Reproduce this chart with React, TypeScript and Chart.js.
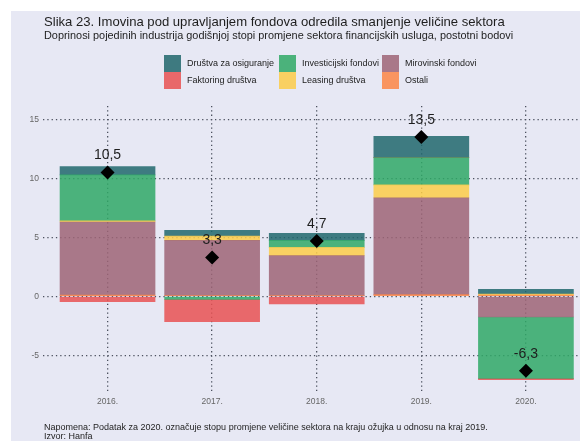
import React, { useEffect, useRef } from 'react';
import { Chart, registerables } from 'chart.js';

Chart.register(...registerables);

// ---- data ----
const categories = ['2016.', '2017.', '2018.', '2019.', '2020.'];
const drustvaZaOsiguranje = [0.7, 0.5, 0.6, 1.8, 0.4];
const investicijskiFondovi = [3.9, -0.25, 0.6, 2.3, -5.2];
const mirovinskiFondovi = [6.2, 4.7, 3.4, 8.2, -1.75];
const faktoringDrustva = [-0.45, -1.9, -0.65, 0, -0.1];
const leasingDrustva = [0.1, 0.35, 0.7, 1.1, 0.1];
const ostali = [0.1, 0.05, 0.05, 0.15, 0.1];
const ukupno = [10.5, 3.3, 4.7, 13.5, -6.3];
const yTickValues = [-5, 0, 5, 10, 15];

const titleText = 'Slika 23. Imovina pod upravljanjem fondova odredila smanjenje veličine sektora';
const subtitleText = 'Doprinosi pojedinih industrija godišnjoj stopi promjene sektora financijskih usluga, postotni bodovi';
const noteLines = [
  'Napomena: Podatak za 2020. označuje stopu promjene veličine sektora na kraju ožujka u odnosu na kraj 2019.',
  'Izvor: Hanfa',
];

const FONT = '"Liberation Sans", Arial, Helvetica, sans-serif';
const GRID_COLOR = '#4d5260';

export default function App() {
  const ref = useRef<HTMLCanvasElement>(null);

  useEffect(() => {
    const canvas = ref.current!;
    // stacking order (bottom to top); legend = opaque look, bar = translucent fill over the lavender
    const series = [
      { label: 'Ostali', data: ostali, color: '#f99560', bar: 'rgba(252,134,70,0.85)' },
      { label: 'Mirovinski fondovi', data: mirovinskiFondovi, color: '#a97889', bar: 'rgba(158,100,118,0.85)' },
      { label: 'Leasing društva', data: leasingDrustva, color: '#f9d062', bar: 'rgba(252,204,72,0.85)' },
      { label: 'Investicijski fondovi', data: investicijskiFondovi, color: '#4bb27b', bar: 'rgba(47,168,102,0.85)' },
      { label: 'Faktoring društva', data: faktoringDrustva, color: '#e8686a', bar: 'rgba(232,81,82,0.85)' },
      { label: 'Društva za osiguranje', data: drustvaZaOsiguranje, color: '#3e7a80', bar: 'rgba(32,103,108,0.85)' },
    ];
    const legendRows = [
      ['Društva za osiguranje', 'Investicijski fondovi', 'Mirovinski fondovi'],
      ['Faktoring društva', 'Leasing društva', 'Ostali'],
    ];
    const colorOf = (l: string) => series.find((s) => s.label === l)!.color;

    const decorPlugin = {
      id: 'decor',
      beforeDraw(chart: any) {
        const c = chart.ctx;
        c.save();
        c.fillStyle = '#ffffff';
        c.fillRect(0, 0, chart.width, chart.height);
        c.fillStyle = '#e7e8f4';
        c.fillRect(11, 11, chart.width - 11, chart.height - 11);
        c.restore();
      },
      afterDraw(chart: any) {
        const c = chart.ctx;
        c.save();
        c.fillStyle = '#1e1e1e';
        c.textAlign = 'left';
        c.textBaseline = 'alphabetic';
        c.font = `13.1px ${FONT}`;
        c.fillText(titleText, 44, 26);
        c.font = `10.9px ${FONT}`;
        c.fillText(subtitleText, 44, 39);

        // legend
        const colX = [164, 279, 382];
        const rowY = [55, 72];
        c.font = `9px ${FONT}`;
        c.textBaseline = 'middle';
        legendRows.forEach((row, r) => {
          row.forEach((label, k) => {
            c.fillStyle = colorOf(label);
            c.fillRect(colX[k], rowY[r], 17, 17);
            c.fillStyle = '#222';
            c.fillText(label, colX[k] + 23, rowY[r] + 9);
          });
        });

        // value labels above diamonds
        const meta = chart.getDatasetMeta(0);
        c.font = `14px ${FONT}`;
        c.textAlign = 'center';
        c.fillStyle = '#1e1e1e';
        meta.data.forEach((pt: any, i: number) => {
          c.fillText(String(ukupno[i]).replace('.', ','), pt.x, pt.y - 17);
        });

        // footnote
        c.textAlign = 'left';
        c.textBaseline = 'alphabetic';
        c.font = `9px ${FONT}`;
        c.fillStyle = '#1e1e1e';
        c.fillText(noteLines[0], 44, 430);
        c.fillText(noteLines[1], 44, 438.5);
        c.restore();
      },
    };

    const chart = new Chart(canvas, {
      type: 'bar',
      data: {
        datasets: [
          {
            type: 'line',
            label: 'Ukupno',
            data: ukupno.map((v, i) => ({ x: i, y: v })),
            showLine: false,
            pointStyle: 'rectRot',
            pointRadius: 7,
            pointBackgroundColor: '#000',
            pointBorderColor: '#000',
            pointBorderWidth: 0,
            stack: 'ukupno',
          } as any,
          ...series.map((s) => ({
            type: 'bar',
            label: s.label,
            data: s.data.map((v, i) => ({ x: i, y: v })),
            backgroundColor: s.bar,
            borderWidth: 0,
            barThickness: 95,
            stack: 'sektor',
          })),
        ],
      },
      options: {
        responsive: false,
        animation: false,
        layout: { autoPadding: false, padding: { top: 106, left: 0, right: 0, bottom: 0 } },
        plugins: { legend: { display: false }, tooltip: { enabled: false }, title: { display: false } },
        scales: {
          x: {
            type: 'linear',
            offset: false,
            min: -0.617,
            max: 4.517,
            stacked: true,
            afterBuildTicks: (s: any) => {
              s.ticks = categories.map((_, i) => ({ value: i }));
            },
            afterFit: (s: any) => {
              s.height = 48;
              s.paddingLeft = 0;
              s.paddingRight = 0;
            },
            ticks: {
              callback: (v: any) => categories[v as number] ?? '',
              font: { size: 8.5, family: FONT },
              color: '#666',
              padding: 4,
              maxRotation: 0,
              autoSkip: false,
            },
            grid: { offset: false, color: GRID_COLOR, lineWidth: 1.3, drawTicks: false },
            border: { display: false, dash: [1.3, 3] },
          },
          y: {
            type: 'linear',
            min: -8.19,
            max: 16.13,
            stacked: true,
            afterBuildTicks: (s: any) => {
              s.ticks = yTickValues.map((v) => ({ value: v }));
            },
            afterFit: (s: any) => {
              s.width = 43;
              s.paddingTop = 0;
              s.paddingBottom = 0;
            },
            ticks: {
              font: { size: 8.5, family: FONT },
              color: '#666',
              padding: 4,
            },
            grid: { color: GRID_COLOR, lineWidth: 1.3, drawTicks: false },
            border: { display: false, dash: [1.3, 3] },
          },
        },
      } as any,
      plugins: [decorPlugin],
    });
    return () => chart.destroy();
  }, []);

  return (
    <div style={{ position: 'absolute', left: 0, top: 0, width: 580, height: 441 }}>
      <canvas ref={ref} width={580} height={441} />
    </div>
  );
}
